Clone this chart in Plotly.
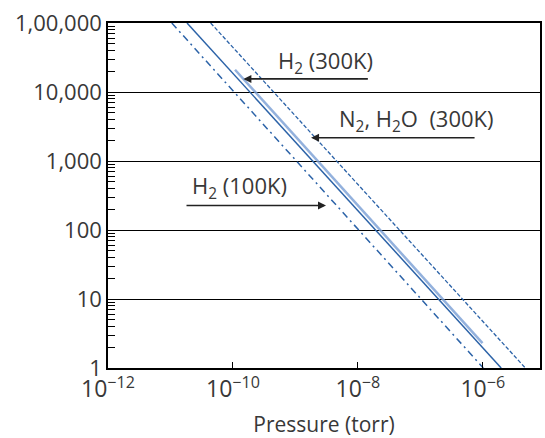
import numpy as np
import plotly.graph_objects as go

# Monolayer formation time vs pressure (log-log), one straight line per gas/temperature
h2_100k_p = [1.05e-11, 1.02e-6]
h2_100k_t = [1e5, 1]

n2_300k_solid_p = [1.84e-11, 1.97e-6]
n2_300k_solid_t = [1e5, 1]

h2_300k_p = [1.08e-10, 9.9e-7]
h2_300k_t = [2.1e4, 2.3]

n2_h2o_300k_p = [4.4e-11, 4.8e-6]
n2_h2o_300k_t = [1e5, 1]

y_tick_vals = [1, 10, 100, 1000, 10000, 100000]
y_tick_text = ["1", "10", "100", "1,000", "10,000", "1,00,000"]
x_tick_vals = [1e-12, 1e-10, 1e-8, 1e-6]
x_tick_text = ["10<sup>\u221212</sup>", "10<sup>\u221210</sup>", "10<sup>\u22128</sup>", "10<sup>\u22126</sup>"]

y_minor = [k * 10.0 ** d for d in range(0, 5) for k in range(2, 10)]

DARK = "#2c63a8"
LIGHT = "rgba(120,158,212,0.8)"
TEXT = "#383838"
FONT = "Open Sans"

fig = go.Figure()
fig.add_trace(go.Scatter(x=h2_100k_p, y=h2_100k_t, mode="lines",
                         line=dict(color=DARK, width=1.5, dash="7px,4px,2px,4px")))
fig.add_trace(go.Scatter(x=h2_300k_p, y=h2_300k_t, mode="lines",
                         line=dict(color=LIGHT, width=2.5)))
fig.add_trace(go.Scatter(x=n2_300k_solid_p, y=n2_300k_solid_t, mode="lines",
                         line=dict(color=DARK, width=1.5)))
fig.add_trace(go.Scatter(x=n2_h2o_300k_p, y=n2_h2o_300k_t, mode="lines",
                         line=dict(color=DARK, width=1.3, dash="4px,2px")))

# Labels with pointer arrows (annotation coordinates are log10 on log axes)
labels = [
    ("H<sub>2</sub> (300K)", -8.526, 4.43),
    ("N<sub>2</sub>, H<sub>2</sub>O  (300K)", -7.068, 3.60),
    ("H<sub>2</sub> (100K)", -9.896, 2.62),
]
for text, lx, ly in labels:
    fig.add_annotation(x=lx, y=ly, xref="x", yref="y", text=text, showarrow=False,
                       font=dict(family=FONT, size=22, color=TEXT))

arrows = [(-9.833, 4.19, 126), (-8.749, 3.338, 165), (-8.510, 2.355, -141)]
for tx, ty, off in arrows:
    fig.add_annotation(x=tx, y=ty, xref="x", yref="y", ax=off, ay=0, text="",
                       showarrow=True, arrowhead=2, arrowsize=1, arrowwidth=1.6,
                       arrowcolor="#222")

fig.update_xaxes(type="log", range=[-12, -5.084], tickmode="array",
                 tickvals=x_tick_vals, ticktext=x_tick_text, ticks="inside",
                 ticklen=6, tickwidth=1.3, tickcolor="black", showgrid=False,
                 showline=True, linecolor="black", linewidth=1.5, mirror=True,
                 zeroline=False, tickfont=dict(family=FONT, size=23, color=TEXT),
                 title=dict(text="Pressure (torr)", font=dict(family=FONT, size=21, color=TEXT),
                            standoff=16))
fig.update_yaxes(type="log", range=[0, 5], tickmode="array",
                 tickvals=y_tick_vals, ticktext=y_tick_text, ticks="",
                 showgrid=True, gridcolor="black", gridwidth=1.3,
                 showline=True, linecolor="black", linewidth=1.5, mirror=True,
                 zeroline=False, tickfont=dict(family=FONT, size=22, color=TEXT),
                 minor=dict(tickmode="array", tickvals=y_minor, ticks="inside",
                            ticklen=7, tickwidth=1, tickcolor="black", showgrid=False))

fig.update_layout(width=545, height=438, showlegend=False,
                  margin=dict(l=108, r=3, t=23, b=69),
                  paper_bgcolor="white", plot_bgcolor="white")

fig.write_html("out.html")
